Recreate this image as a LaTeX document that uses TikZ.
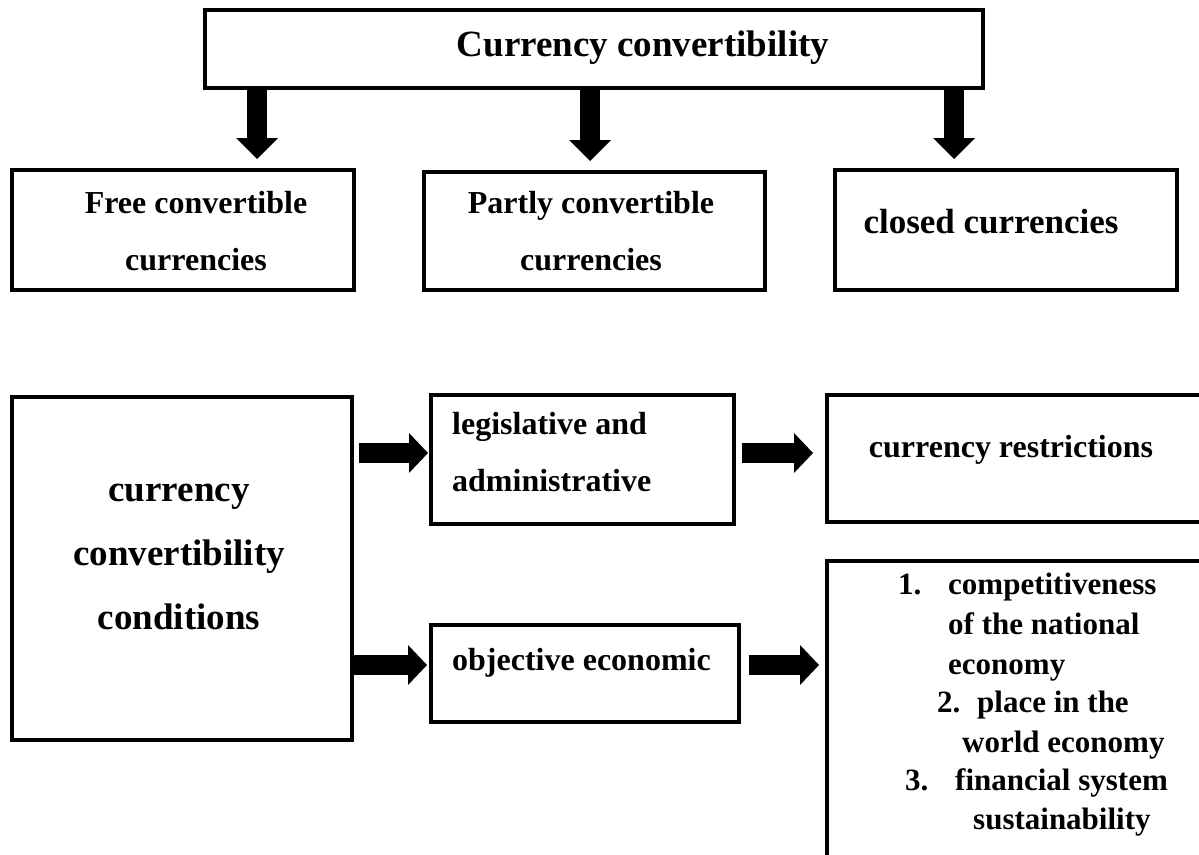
\documentclass[tikz,border=0pt]{standalone}
\usepackage{fontspec}
\setmainfont{Liberation Serif}
\usetikzlibrary{arrows.meta}
\begin{document}
\begin{tikzpicture}[x=1pt,y=-1pt,
  box/.style={draw, line width=4pt, anchor=north west, inner sep=0pt},
  txt/.style={font=\bfseries\fontsize{32}{57}\selectfont, inner sep=0pt},
  big/.style={font=\bfseries\fontsize{37}{64}\selectfont, inner sep=0pt},
  lst/.style={font=\bfseries\fontsize{31}{39}\selectfont, inner sep=0pt, anchor=mid west},
  blkv/.style={line width=20pt, -{Triangle[length=21pt,width=42pt,line width=0pt]}},
  blkh/.style={line width=20pt, -{Triangle[length=19pt,width=40pt,line width=0pt]}}]
\clip (0,0) rectangle (1199,854);
\fill[white] (0,0) rectangle (1199,854);
% boxes
\node[box, minimum width=778pt, minimum height=78pt] (top) at (203,8) {};
\node[box, minimum width=342pt, minimum height=120pt] (b1) at (10,168) {};
\node[box, minimum width=341pt, minimum height=118pt] (b2) at (422,170) {};
\node[box, minimum width=342pt, minimum height=120pt] (b3) at (833,168) {};
\node[box, minimum width=340pt, minimum height=343pt] (cond) at (10,395) {};
\node[box, minimum width=303pt, minimum height=129pt] (legis) at (429,393) {};
\node[box, minimum width=400pt, minimum height=127pt] (restr) at (825,393) {};
\node[box, minimum width=308pt, minimum height=97pt] (obj) at (429,623) {};
\node[box, minimum width=400pt, minimum height=320pt] (list) at (825,559) {};
% texts
\node[big] (ttl) at (643,48) {Currency convertibility};
\node[txt, align=center] (t1) at (196,231) {Free convertible\\currencies};
\node[txt, align=center] (t2) at (591,231) {Partly convertible\\currencies};
\node[txt, font=\bfseries\fontsize{35}{40}\selectfont] (t3) at (991,222) {closed currencies};
\node[big, align=center] (t4) at (179,557) {currency\\convertibility\\conditions};
\node[txt, align=left, anchor=west] (t5) at (452,452) {legislative and\\administrative};
\node[txt, anchor=west] (t6) at (452,663) {objective economic};
\node[txt] (t7) at (1011,450) {currency restrictions};
\node[lst] (l1) at (898,592) {\makebox[50pt][l]{1.}competitiveness};
\node[lst] (l2) at (948,632) {of the national};
\node[lst] (l3) at (948,672) {economy};
\node[lst] (l4) at (937,710) {\makebox[40pt][l]{2.}place in the};
\node[lst] (l5) at (962,750) {world economy};
\node[lst] (l6) at (905,788) {\makebox[50pt][l]{3.}financial system};
\node[lst] (l7) at (973,827) {sustainability};
% arrows
\coordinate (ax1) at (257,0);
\coordinate (ax2) at (590,0);
\coordinate (ax3) at (954,0);
\coordinate (ry1) at (0,453);
\coordinate (ry2) at (0,665);
\draw[blkv, shorten >=9pt] (top.south -| ax1) -- (b1.north -| ax1);
\draw[blkv, shorten >=9pt] (top.south -| ax2) -- (b2.north -| ax2);
\draw[blkv, shorten >=9pt] (top.south -| ax3) -- (b3.north -| ax3);
\draw[blkh, shorten <=5pt, shorten >=1pt] (cond.east |- ry1) -- (legis.west |- ry1);
\draw[blkh, shorten <=6pt, shorten >=12pt] (legis.east |- ry1) -- (restr.west |- ry1);
\draw[blkh, shorten >=2pt] (cond.east |- ry2) -- (obj.west |- ry2);
\draw[blkh, shorten <=8pt, shorten >=6pt] (obj.east |- ry2) -- (list.west |- ry2);
\end{tikzpicture}
\end{document}
